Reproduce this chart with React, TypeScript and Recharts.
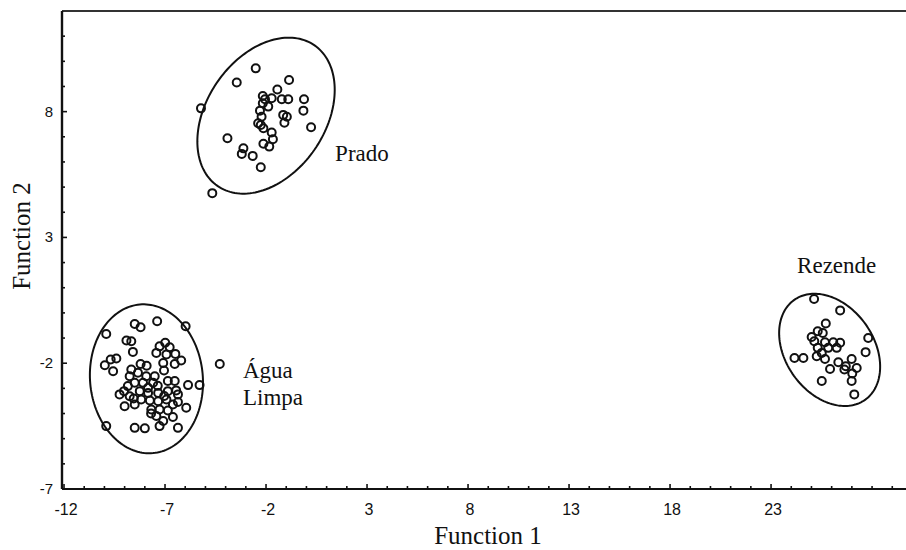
import React from 'react';
import { ScatterChart, Scatter, XAxis, YAxis } from 'recharts';

// ---- axis ticks ----
const xTicks = [-12, -11, -10, -9, -8, -7, -6, -5, -4, -3, -2, -1, 0, 1, 2, 3, 4, 5, 6, 7, 8, 9, 10, 11, 12, 13, 14, 15, 16, 17, 18, 19, 20, 21, 22, 23, 24, 25, 26, 27, 28, 29];
const xLabelTicks = [-12, -7, -2, 3, 8, 13, 18, 23];
const yTicks = [-7, -6, -5, -4, -3, -2, -1, 0, 1, 2, 3, 4, 5, 6, 7, 8, 9, 10, 11];
const yLabelTicks = [-7, -2, 3, 8];
const topTicks = [1, 2, 3, 4, 5, 6, 7, 8, 9, 10, 11, 12, 13, 14, 15, 16, 17, 18, 19, 20, 21, 22, 23, 24, 25, 26, 27, 28, 29, 30, 31, 32, 33, 34, 35, 36, 37, 38, 39, 40, 41, 42, 43, 44];

// ---- group scores (Function 1, Function 2) ----
const prado: [number, number][] = [
  [-2.51, 9.72], [-3.45, 9.16], [-0.86, 9.26], [-5.22, 8.13], [-1.44, 8.88], [-2.16, 8.62],
  [-1.72, 8.53], [-1.22, 8.49], [-0.9, 8.49], [-0.12, 8.49], [-2.05, 8.49], [-2.16, 8.33],
  [-1.89, 8.2], [-0.15, 8.04], [-2.3, 8.04], [-1.15, 7.87], [-0.97, 7.8], [-2.22, 7.8],
  [-1.09, 7.56], [-2.26, 7.47], [-2.39, 7.54], [0.23, 7.38], [-2.13, 7.34], [-1.72, 7.17],
  [-3.91, 6.94], [-1.66, 6.9], [-2.13, 6.72], [-1.84, 6.61], [-3.12, 6.54], [-3.2, 6.32],
  [-2.66, 6.24], [-2.26, 5.79], [-4.66, 4.76],
];

const aguaLimpa: [number, number][] = [
  [-8.5, -0.44], [-8.21, -0.57], [-7.39, -0.33], [-5.98, -0.53], [-9.91, -0.84], [-8.91, -1.1],
  [-8.67, -1.13], [-8.59, -1.55], [-6.99, -1.19], [-7.27, -1.33], [-6.77, -1.37], [-7.43, -1.59],
  [-6.93, -1.65], [-6.49, -1.63], [-6.2, -1.89], [-7.09, -1.99], [-6.52, -2.03], [-4.29, -2.03],
  [-9.69, -1.85], [-9.41, -1.81], [-9.98, -2.08], [-9.57, -2.32], [-8.21, -2.03], [-8.67, -2.25],
  [-8.34, -2.38], [-8.75, -2.52], [-7.93, -2.52], [-7.51, -2.52], [-7.05, -2.29], [-8.5, -2.78],
  [-8.09, -2.78], [-7.59, -2.78], [-6.86, -2.71], [-6.52, -2.71], [-5.86, -2.87], [-5.29, -2.87],
  [-9.03, -3.11], [-9.25, -3.24], [-8.75, -3.31], [-8.25, -3.11], [-7.84, -3.18], [-7.34, -3.18],
  [-6.86, -3.11], [-6.45, -3.08], [-6.36, -3.24], [-8.18, -3.44], [-7.75, -3.48], [-7.34, -3.51],
  [-6.93, -3.44], [-9.0, -3.71], [-8.5, -3.64], [-6.36, -3.54], [-5.95, -3.77], [-7.68, -3.84],
  [-7.27, -3.84], [-6.86, -3.88], [-7.43, -4.1], [-6.61, -4.14], [-7.09, -4.3], [-7.27, -4.5],
  [-8.5, -4.57], [-8.0, -4.59], [-6.36, -4.57], [-9.91, -4.5], [-7.84, -2.98], [-8.84, -2.91],
  [-6.61, -3.64], [-7.91, -2.1], [-7.36, -2.9], [-7.04, -3.3], [-8.55, -3.4], [-7.69, -4.0],
];

const rezende: [number, number][] = [
  [25.13, 0.55], [26.42, 0.1], [25.71, -0.42], [25.31, -0.73], [25.01, -0.96], [25.56, -0.8],
  [25.14, -1.13], [25.67, -1.17], [26.08, -1.17], [26.42, -1.19], [27.81, -1.0], [25.31, -1.39],
  [25.83, -1.39], [26.25, -1.39], [25.51, -1.59], [25.26, -1.72], [24.16, -1.79], [24.6, -1.79],
  [25.67, -1.83], [27.68, -1.56], [26.33, -1.96], [26.99, -1.83], [26.7, -2.12], [25.92, -2.23],
  [26.63, -2.25], [27.24, -2.19], [27.02, -2.41], [25.51, -2.71], [26.99, -2.71], [27.12, -3.24],
];

// ---- group ellipses: centre, half-extent in x and y, tilt (correlation) ----
const ellipseCx = [-2.0, -7.92, 25.9];
const ellipseCy = [7.84, -2.62, -1.47];
const ellipseRx = [3.4, 2.8, 2.5];
const ellipseRy = [3.1, 2.96, 2.23];
const ellipseRho = [0.33, -0.05, -0.3];

// ---- group labels ----
const groupLabels = ['Prado', 'Água', 'Limpa', 'Rezende'];
const groupLabelX = [1.42, -3.14, -3.14, 24.29];
const groupLabelY = [6.02, -2.6, -3.67, 1.57];

const INK = '#111';
const SANS = '"Liberation Sans", Arial, Helvetica, sans-serif';
const SERIF = '"Liberation Serif", "Times New Roman", Times, serif';

const toPts = (arr: [number, number][]) => arr.map(([x, y]) => ({ x, y }));

const ellipseData = (i: number) => {
  const pts: { x: number; y: number }[] = [];
  const n = 160;
  const rho = ellipseRho[i];
  const s = Math.sqrt(1 - rho * rho);
  for (let k = 0; k <= n; k++) {
    const t = (2 * Math.PI * k) / n;
    pts.push({
      x: ellipseCx[i] + ellipseRx[i] * Math.cos(t),
      y: ellipseCy[i] + ellipseRy[i] * (rho * Math.cos(t) + s * Math.sin(t)),
    });
  }
  return pts;
};

const labelData = groupLabels.map((label, i) => ({ x: groupLabelX[i], y: groupLabelY[i], label }));

const BottomTick = (props: any) => {
  const { x, y, payload } = props;
  const v = payload.value;
  const major = xLabelTicks.includes(v);
  return (
    <g>
      <line x1={x} x2={x} y1={y} y2={y - (major ? 5 : 3)} stroke={INK} strokeWidth={1.6} />
      {major && (
        <text x={x + 2} y={y + 26} textAnchor="middle" fontFamily={SANS} fontSize={16} fill={INK}>
          {v}
        </text>
      )}
    </g>
  );
};

const LeftTick = (props: any) => {
  const { x, y, payload } = props;
  const v = payload.value;
  const major = yLabelTicks.includes(v);
  return (
    <g>
      <line x1={x} x2={x + (major ? 5 : 3)} y1={y} y2={y} stroke={INK} strokeWidth={1.6} />
      {major && (
        <text x={x - 9} y={y + 5} textAnchor="end" fontFamily={SANS} fontSize={15} fill={INK}>
          {v}
        </text>
      )}
    </g>
  );
};

const TopTick = (props: any) => {
  const { x, y } = props;
  return <line x1={x} x2={x} y1={y} y2={y + 3} stroke={INK} strokeWidth={1.6} />;
};

const OpenCircle = (props: any) => {
  const { cx, cy } = props;
  return <circle cx={cx} cy={cy} r={4} fill="none" stroke={INK} strokeWidth={2} />;
};

const NoShape = () => <g />;

const LabelShape = (props: any) => {
  const { cx, cy, payload } = props;
  return (
    <text x={cx} y={cy} textAnchor="start" fontFamily={SERIF} fontSize={23} fill={INK}>
      {payload.label}
    </text>
  );
};

export default function App() {
  return (
    <div style={{ position: 'absolute', left: 0, top: 0, width: 906, height: 550, background: '#fff' }}>
      <ScatterChart width={906} height={550} margin={{ top: 1, right: 0, bottom: 21, left: 2 }}>
        <XAxis
          xAxisId="b"
          type="number"
          dataKey="x"
          orientation="bottom"
          domain={[-12.1, 29.68]}
          ticks={xTicks}
          interval={0}
          allowDataOverflow
          height={40}
          tickSize={0}
          tickMargin={0}
          tickLine={false}
          axisLine={{ stroke: INK, strokeWidth: 2.2 }}
          tick={<BottomTick />}
          label={{
            content: (p: any) => {
              const vb = p.viewBox;
              return (
                <text x={vb.x + vb.width / 2 + 4} y={vb.y + 55} textAnchor="middle" fontFamily={SERIF} fontSize={25} fill={INK}>
                  Function 1
                </text>
              );
            },
          }}
        />
        <XAxis
          xAxisId="t"
          type="number"
          orientation="top"
          domain={[0, 44.68]}
          ticks={topTicks}
          interval={0}
          allowDataOverflow
          height={10}
          tickSize={0}
          tickMargin={0}
          tickLine={false}
          axisLine={{ stroke: '#333', strokeWidth: 2.2 }}
          tick={<TopTick />}
        />
        <YAxis
          yAxisId="l"
          type="number"
          dataKey="y"
          domain={[-7, 12]}
          ticks={yTicks}
          interval={0}
          allowDataOverflow
          width={60}
          tickSize={0}
          tickMargin={0}
          tickLine={false}
          axisLine={{ stroke: INK, strokeWidth: 2.4 }}
          tick={<LeftTick />}
          label={{
            content: () => {
              const cx = 21;
              const cy = 236;
              return (
                <text
                  x={cx}
                  y={cy}
                  transform={`rotate(-90, ${cx}, ${cy})`}
                  textAnchor="middle"
                  dominantBaseline="central"
                  fontFamily={SERIF}
                  fontSize={25}
                  fill={INK}
                >
                  Function 2
                </text>
              );
            },
          }}
        />
        {[0, 1, 2].map((i) => (
          <Scatter
            key={'e' + i}
            xAxisId="b"
            yAxisId="l"
            data={ellipseData(i)}
            line={{ stroke: INK, strokeWidth: 2 }}
            lineJointType="linear"
            shape={<NoShape />}
            isAnimationActive={false}
          />
        ))}
        <Scatter xAxisId="b" yAxisId="l" data={toPts(prado)} shape={<OpenCircle />} isAnimationActive={false} />
        <Scatter xAxisId="b" yAxisId="l" data={toPts(aguaLimpa)} shape={<OpenCircle />} isAnimationActive={false} />
        <Scatter xAxisId="b" yAxisId="l" data={toPts(rezende)} shape={<OpenCircle />} isAnimationActive={false} />
        <Scatter xAxisId="b" yAxisId="l" data={labelData} shape={<LabelShape />} isAnimationActive={false} />
      </ScatterChart>
    </div>
  );
}
